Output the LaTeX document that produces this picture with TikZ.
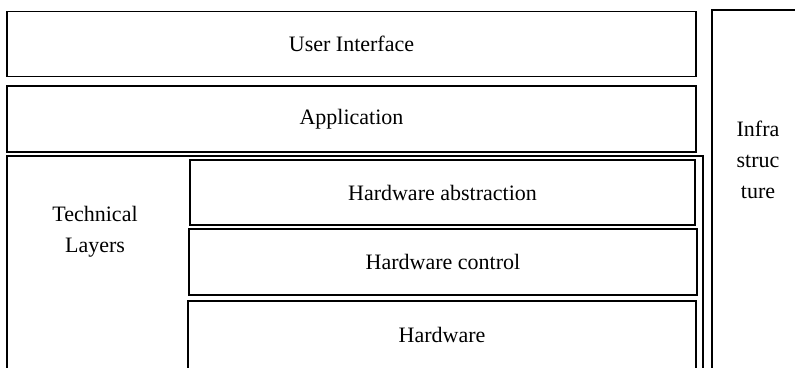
\documentclass[tikz,border=0pt]{standalone}
\usepackage{fontspec}
\setmainfont{Liberation Serif}
\begin{document}
\begin{tikzpicture}[x=1pt,y=-1pt,
  layer/.style={draw, line width=1.7pt, rectangle, inner sep=0pt, font=\fontsize{22}{30}\selectfont},
  lbl/.style={align=center, inner sep=0pt, font=\fontsize{22}{31}\selectfont}]
\useasboundingbox (0,0) rectangle (795,367);
\clip (0,0) rectangle (795,367);
% outer technical layers frame and infrastructure column (open at the bottom)
\node[layer, minimum width=696pt, minimum height=216pt] (tech) at (355,264) {};
\node[layer, minimum width=92pt, minimum height=362pt] (infra) at (758,191) {};
\node[layer, minimum width=689pt, minimum height=65pt] (ui) at (351.5,44) {User Interface};
\node[layer, minimum width=689pt, minimum height=66pt] (app) at (351.5,119) {Application};
\node[layer, minimum width=505pt, minimum height=65pt] (hwa) at (442.5,192.5) {Hardware abstraction};
\node[layer, minimum width=508pt, minimum height=66pt] (hwc) at (443,262) {Hardware control};
\node[layer, minimum width=508pt, minimum height=68pt] (hw) at (442,335) {Hardware};
\node[lbl] (techlbl) at (95,232) {Technical\\Layers};
\node[lbl] (infralbl) at (758,160) {Infra\\struc\\ture};
\end{tikzpicture}
\end{document}
